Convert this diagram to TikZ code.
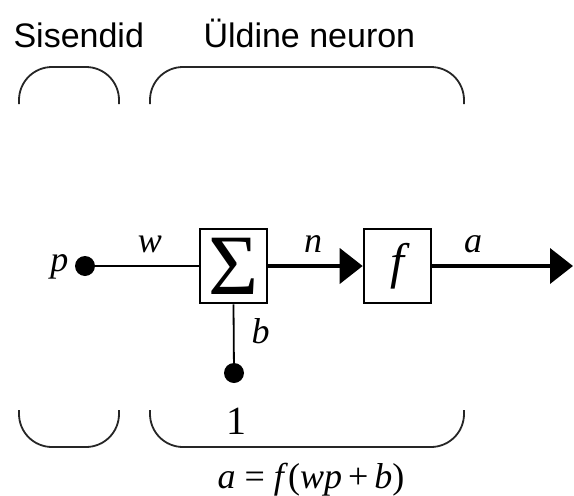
\documentclass[tikz,border=0pt]{standalone}
\usepackage{fontspec}
\setmainfont{Liberation Serif}
\newfontfamily\headfont{Liberation Sans}
\usetikzlibrary{arrows.meta, positioning}

\begin{document}
\begin{tikzpicture}[x=1pt, y=-1pt,
    brace/.style={black!85, line width=1.8pt, rounded corners=33pt},
    headtext/.style={font=\headfont\fontsize{34}{34}\selectfont, anchor=base west},
    vartext/.style={font=\fontsize{36}{36}\selectfont\itshape, anchor=base},
    blockbox/.style={draw, line width=2.6pt, minimum width=67pt, minimum height=74pt, inner sep=0pt},
    joint/.style={circle, fill, inner sep=0pt, minimum size=20pt},
    thinwire/.style={line width=1.8pt},
    thickwire/.style={line width=4pt, -{Triangle[length=23pt, width=35pt]}}]

\useasboundingbox (0,0) rectangle (574,496);

% === Headings ===
\node[headtext] (inhead) at (10,47) {Sisendid};
\node[headtext] (neuhead) at (200,47) {Üldine neuron};

% === Braces ===
\draw[brace] (19,104) -- (19,67) -- (119,67) -- (119,104);
\draw[brace] (150,104) -- (150,67) -- (464,67) -- (464,104);
\draw[brace] (19,410) -- (19,447) -- (119,447) -- (119,410);
\draw[brace] (150,410) -- (150,447) -- (464,447) -- (464,410);

% === Neuron blocks ===
\node[joint] (pin) at (85,266) {};
\node[blockbox, font=\fontsize{86}{86}\selectfont] (sum) at (233.5,266) {Σ};
\node[blockbox, font=\fontsize{50}{50}\selectfont\itshape] (act) at (397.5,266) {f};
\node[joint] (bias) at (234,373) {};
\coordinate (out) at (573,266);

% Connectors
\draw[thinwire] (pin) -- (sum);
\draw[thinwire] (sum.south) -- (bias);
\draw[thickwire] (sum) -- (act);
\draw[thickwire] (act) -- (out);

% Labels
\node[vartext, anchor=base east] (plab) at (72,271) {p};
\node[vartext] (wlab) at (150,252) {w};
\node[vartext] (nlab) at (313,252) {n};
\node[vartext] (alab) at (473,252) {a};
\node[vartext, anchor=base west] (blab) at (248,343) {b};
\node[vartext, font=\fontsize{40}{40}\selectfont] (onelab) at (236,434) {1};
\node[vartext, font=\fontsize{36}{36}\selectfont] (formula) at (311,488)
     {\textit{a} = \textit{f}(\textit{wp}\,+\,\textit{b})};

\end{tikzpicture}
\end{document}
